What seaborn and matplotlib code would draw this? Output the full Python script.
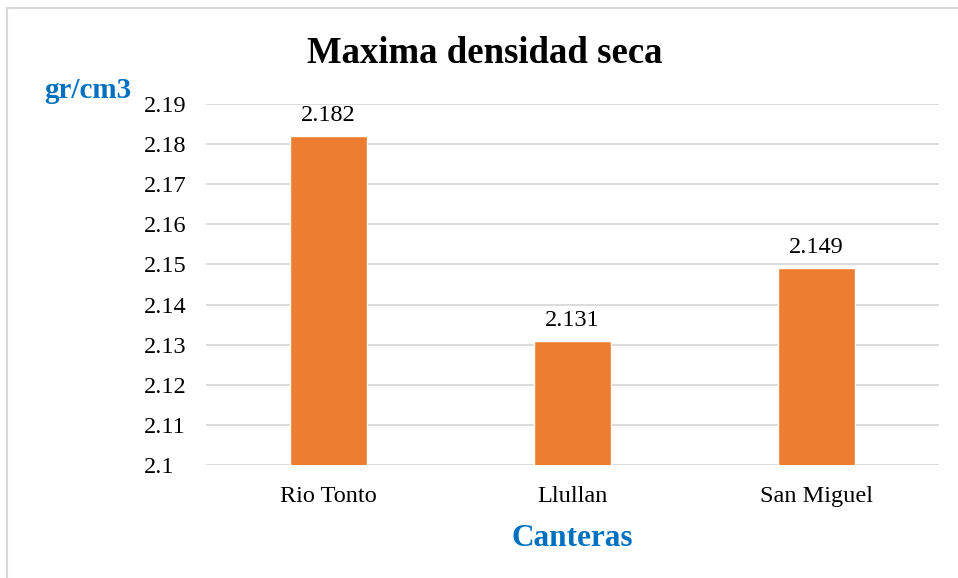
import pandas as pd
import seaborn as sns
import matplotlib.pyplot as plt
from matplotlib.lines import Line2D

# data
canteras = ["Rio Tonto", "Llullan", "San Miguel"]
densidad = [2.182, 2.131, 2.149]
etiquetas = ["2.182", "2.131", "2.149"]
y_ticks = [2.1, 2.11, 2.12, 2.13, 2.14, 2.15, 2.16, 2.17, 2.18, 2.19]
y_tick_labels = ["2.1", "2.11", "2.12", "2.13", "2.14", "2.15", "2.16", "2.17", "2.18", "2.19"]

df = pd.DataFrame({"cantera": canteras, "densidad": densidad})

sns.set_style("white")
plt.rcParams['font.family'] = ['Liberation Serif', 'DejaVu Serif']

fig = plt.figure(figsize=(9.58, 5.78), dpi=100)
ax = fig.add_axes([0.215, 0.1955, 0.765, 0.6245])

sns.barplot(data=df, x="cantera", y="densidad", color="#ED7D31",
            width=0.315, saturation=1, ax=ax, zorder=2)

ax.set_ylim(2.1, 2.19)
ax.set_yticks(y_ticks)
ax.set_yticklabels(y_tick_labels, ha="left")
ax.yaxis.grid(True, color="#D9D9D9", linewidth=1.3, zorder=0)
ax.set_axisbelow(True)
for s in ax.spines.values():
    s.set_visible(False)
ax.tick_params(axis="both", length=0, labelsize=17.5, labelcolor="black")
ax.tick_params(axis="y", pad=44.5)
ax.tick_params(axis="x", pad=15)

# value labels
for i, v in enumerate(densidad):
    ax.text(i, v + 0.0025, etiquetas[i], ha="center", va="bottom",
            fontsize=17.5, color="black")

ax.set_xlabel("Canteras", fontsize=22.5, fontweight="bold", color="#0070C0", labelpad=12)
ax.set_ylabel("")
fig.text(0.046, 0.843, "gr/cm3", fontsize=21, fontweight="bold", color="#0070C0",
         ha="left", va="center")
fig.text(0.506, 0.907, "Maxima densidad seca", fontsize=26.5, fontweight="bold",
         ha="center", va="center", color="black")

# light frame: only the top and left edges show in the reference
fig.lines.append(Line2D([0.0075, 0.0075], [0.0, 0.986], transform=fig.transFigure,
                        color="#D9D9D9", linewidth=1.5))
fig.lines.append(Line2D([0.0075, 1.0], [0.986, 0.986], transform=fig.transFigure,
                        color="#D9D9D9", linewidth=1.5))

plt.savefig("out.png", dpi=100)
